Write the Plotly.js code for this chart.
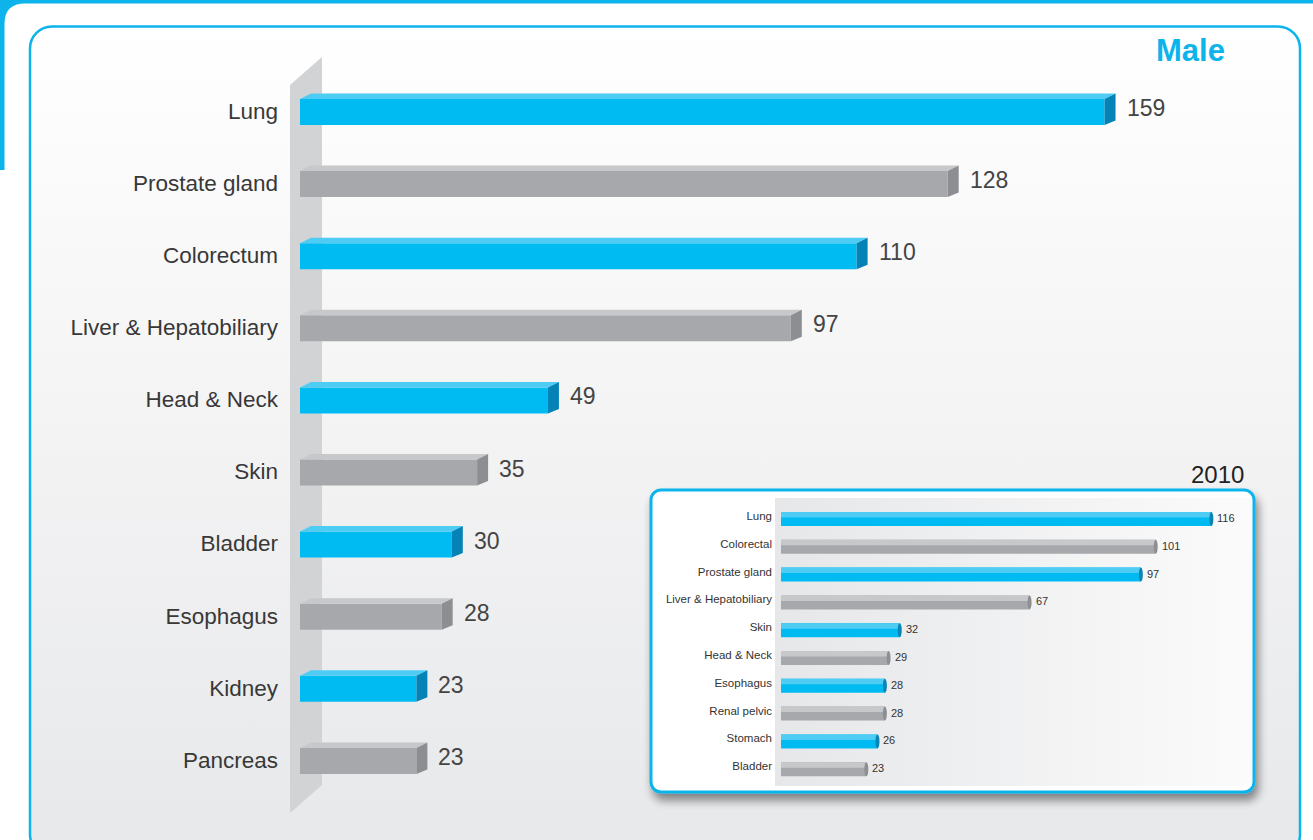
<!DOCTYPE html>
<html>
<head>
<meta charset="utf-8">
<script src="https://cdn.plot.ly/plotly-3.0.1.min.js"></script>
<style>html,body{margin:0;padding:0;background:#fff;}#chart{width:1313px;height:840px;}</style>
</head>
<body>
<div id="chart"></div>
<script>
// ---- data ----
const categories = ['Lung', 'Prostate gland', 'Colorectum', 'Liver & Hepatobiliary', 'Head & Neck', 'Skin', 'Bladder', 'Esophagus', 'Kidney', 'Pancreas'];
const values = [159, 128, 110, 97, 49, 35, 30, 28, 23, 23];
const categories2010 = ['Lung', 'Colorectal', 'Prostate gland', 'Liver & Hepatobiliary', 'Skin', 'Head & Neck', 'Esophagus', 'Renal pelvic', 'Stomach', 'Bladder'];
const values2010 = [116, 101, 97, 67, 32, 29, 28, 28, 26, 23];
const titleText = 'Male';
const insetTitle = '2010';

// ---- styling / layout constants ----
const W = 1313, H = 840;
const BLUE = {front: '#00BBF1', top: '#4ECCF4', side: '#0583B6', cap: '#0A84B5'};
const GRAY = {front: '#A7A8AB', top: '#C7C8CA', side: '#8D8E91', cap: '#8E8F92'};
const FONT = 'Liberation Sans, Arial, sans-serif';

// main plot geometry (pixels)
const M = {left: 285, right: 1300, zero: 300, sx: 5.06, top: 40, bottom: 830, row0: 111, sy: 72.1};
// inset plot geometry (pixels)
const I = {left: 775, right: 1252, zero: 781, sx: 3.71, top: 498, bottom: 786, row0: 516, sy: 27.8};

const idx = categories.map((_, i) => i);
const idx2 = categories2010.map((_, i) => i);
const pal = i => (i % 2 === 0 ? BLUE : GRAY);

// ---- background decoration (svg) ----
const svg = `<svg xmlns="http://www.w3.org/2000/svg" width="${W}" height="${H}" viewBox="0 0 ${W} ${H}">
<defs>
<linearGradient id="bg" x1="0" y1="0" x2="0" y2="1"><stop offset="0" stop-color="#ffffff"/><stop offset="0.5" stop-color="#f3f3f4"/><stop offset="1" stop-color="#e7e8ea"/></linearGradient>
<linearGradient id="ib" x1="0" y1="0" x2="1" y2="0"><stop offset="0" stop-color="#e6e7e9"/><stop offset="1" stop-color="#fbfbfb"/></linearGradient>
<filter id="sh" x="-10%" y="-10%" width="125%" height="140%"><feGaussianBlur in="SourceAlpha" stdDeviation="5"/><feOffset dx="3" dy="7"/><feComponentTransfer><feFuncA type="linear" slope="0.45"/></feComponentTransfer><feMerge><feMergeNode/><feMergeNode in="SourceGraphic"/></feMerge></filter>
</defs>
<rect x="0" y="0" width="${W}" height="${H}" fill="#ffffff"/>
<path d="M0,0 L${W},0 L${W},3.5 L25,3.5 Q4.5,3.5 4.5,24 L4.5,170 L0,170 Z" fill="#0DB4EC"/>
<rect x="30" y="26.5" width="1270" height="830" rx="22" ry="22" fill="url(#bg)" stroke="#0DB4EC" stroke-width="2.5"/>
<path d="M290,85 L322,57 L322,785 L290,813 Z" fill="#D2D3D5"/>
<g filter="url(#sh)"><rect x="651" y="490" width="603" height="302" rx="10" ry="10" fill="#ffffff" stroke="#0DB4EC" stroke-width="3"/></g>
<rect x="${I.left}" y="${I.top}" width="${I.right - I.left}" height="${I.bottom - I.top}" fill="url(#ib)"/>
</svg>`;
const bgSrc = 'data:image/svg+xml;charset=utf-8,' + encodeURIComponent(svg);

// ---- traces ----
const mainBar = {
  type: 'bar', orientation: 'h', xaxis: 'x', yaxis: 'y',
  x: values, y: idx,
  width: 26 / M.sy, offset: -12 / M.sy,
  marker: {color: idx.map(i => pal(i).front), line: {width: 0}},
  hoverinfo: 'skip'
};
const insetBar = {
  type: 'bar', orientation: 'h', xaxis: 'x2', yaxis: 'y2',
  x: values2010, y: idx2,
  width: 14 / I.sy, offset: -4 / I.sy,
  marker: {color: idx2.map(i => pal(i).front), line: {width: 0}},
  hoverinfo: 'skip'
};

// ---- 3D faces as shapes (data coords) ----
const shapes = [];
const dx = 11 / M.sx;
values.forEach((v, i) => {
  const c = pal(i);
  const ya = i - 12 / M.sy, yb = ya - 5.5 / M.sy;
  const yc = i + 14 / M.sy, yd = yc - 4.5 / M.sy;
  shapes.push({type: 'path', xref: 'x', yref: 'y', line: {width: 0}, fillcolor: c.top,
    path: `M0,${ya} L${v},${ya} L${v + dx},${yb} L${dx},${yb} Z`});
  shapes.push({type: 'path', xref: 'x', yref: 'y', line: {width: 0}, fillcolor: c.side,
    path: `M${v},${ya} L${v + dx},${yb} L${v + dx},${yd} L${v},${yc} Z`});
});
values2010.forEach((v, i) => {
  const c = pal(i);
  shapes.push({type: 'rect', xref: 'x2', yref: 'y2', line: {width: 0}, fillcolor: c.top,
    x0: 0, x1: v, y0: i - 4 / I.sy, y1: i + 1.5 / I.sy});
  shapes.push({type: 'circle', xref: 'x2', yref: 'y2', xsizemode: 'pixel', xanchor: v,
    x0: -2, x1: 2, y0: i - 4 / I.sy, y1: i + 10 / I.sy, line: {width: 0}, fillcolor: c.cap});
});

// ---- annotations ----
const annotations = [];
values.forEach((v, i) => annotations.push({
  xref: 'x', yref: 'y', x: v, y: i, text: String(v), showarrow: false,
  xanchor: 'left', yanchor: 'middle', xshift: 20, yshift: 3,
  font: {family: FONT, size: 23, color: '#444'}
}));
values2010.forEach((v, i) => annotations.push({
  xref: 'x2', yref: 'y2', x: v, y: i, text: String(v), showarrow: false,
  xanchor: 'left', yanchor: 'middle', xshift: 4, yshift: -2,
  font: {family: FONT, size: 11, color: '#333'}
}));
annotations.push({xref: 'paper', yref: 'paper', x: 1190 / W, y: 1 - 50 / H, text: '<b>' + titleText + '</b>',
  showarrow: false, xanchor: 'center', yanchor: 'middle', font: {family: FONT, size: 31, color: '#0DB4EC'}});
annotations.push({xref: 'paper', yref: 'paper', x: 1217 / W, y: 1 - 474 / H, text: insetTitle,
  showarrow: false, xanchor: 'center', yanchor: 'middle', font: {family: FONT, size: 24, color: '#222'}});

const hidden = {showgrid: false, zeroline: false, showline: false, showticklabels: false, ticks: ''};

const layout = {
  width: W, height: H, autosize: false,
  margin: {l: 0, r: 0, t: 0, b: 0, pad: 0},
  paper_bgcolor: '#ffffff', plot_bgcolor: 'rgba(0,0,0,0)',
  showlegend: false, barmode: 'overlay',
  font: {family: FONT},
  xaxis: Object.assign({}, hidden, {domain: [M.left / W, M.right / W],
    range: [(M.left - M.zero) / M.sx, (M.right - M.zero) / M.sx], fixedrange: true}),
  yaxis: {domain: [1 - M.bottom / H, 1 - M.top / H],
    range: [(M.bottom - M.row0) / M.sy, (M.top - M.row0) / M.sy],
    tickmode: 'array', tickvals: idx, ticktext: categories, ticks: '',
    showgrid: false, zeroline: false, showline: false, ticklabelstandoff: 6,
    tickfont: {family: FONT, size: 22.5, color: '#383838'}, fixedrange: true},
  xaxis2: Object.assign({}, hidden, {anchor: 'y2', domain: [I.left / W, I.right / W],
    range: [(I.left - I.zero) / I.sx, (I.right - I.zero) / I.sx], fixedrange: true}),
  yaxis2: {anchor: 'x2', domain: [1 - I.bottom / H, 1 - I.top / H],
    range: [(I.bottom - I.row0) / I.sy, (I.top - I.row0) / I.sy],
    tickmode: 'array', tickvals: idx2, ticktext: categories2010, ticks: '',
    showgrid: false, zeroline: false, showline: false, ticklabelstandoff: 2,
    tickfont: {family: FONT, size: 11.5, color: '#333'}, fixedrange: true},
  shapes: shapes,
  annotations: annotations,
  images: [{source: bgSrc, xref: 'paper', yref: 'paper', x: 0, y: 1, sizex: 1, sizey: 1,
    xanchor: 'left', yanchor: 'top', sizing: 'stretch', layer: 'below'}]
};

Plotly.newPlot('chart', [mainBar, insetBar], layout, {displayModeBar: false, staticPlot: true});
</script>
</body>
</html>
